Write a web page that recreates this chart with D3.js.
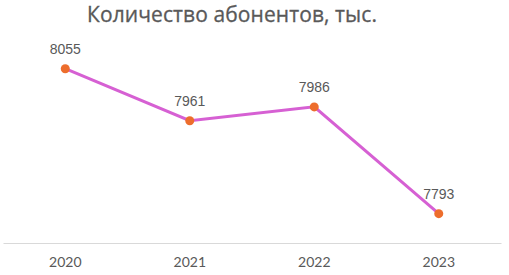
<!DOCTYPE html>
<html>
<head>
<meta charset="utf-8"/>
<script src="https://cdn.jsdelivr.net/npm/d3@7"></script>
<style>
	body { margin: 0; background: #fff; }
	svg { display: block; }
	.title { font-family: 'Open Sans', sans-serif; font-size: 21px; font-weight: 500; fill: #595959; stroke: #595959; stroke-width: 0.3; }
	.lbl { font-family: 'Liberation Sans', Arial, sans-serif; font-size: 14px; fill: #595959; }
	.tick text { font-family: Lato, 'Open Sans', sans-serif; font-size: 14px; fill: #595959; }
</style>
</head>
<body>
<div id="chart"></div>
<script>
var years = ['2020', '2021', '2022', '2023'];
var subscribers = [8055, 7961, 7986, 7793];
var title = 'Количество абонентов, тыс.';

var W = 509, H = 275;
var svg = d3.select('#chart').append('svg').attr('width', W).attr('height', H);

// plot area
var left = 3, right = 501, bottom = 243;
var x = d3.scaleBand().domain(years).range([left, right]);
var y = d3.scaleLinear().domain([7740, 8100]).range([bottom, 43.8]);

svg.append('text').attr('class', 'title')
	.attr('x', 232).attr('y', 22)
	.attr('text-anchor', 'middle')
	.attr('textLength', 290)
	.text(title);

// category axis
var ax = svg.append('g').attr('transform', `translate(0,${bottom})`)
	.call(d3.axisBottom(x).tickSize(0).tickPadding(14));
ax.select('.domain').attr('stroke', '#d9d9d9').attr('stroke-width', 1.2);

var data = years.map((d, i) => ({year: d, v: subscribers[i]}));
var cx = d => x(d.year) + x.bandwidth() / 2;

var line = d3.line().x(cx).y(d => y(d.v));
svg.append('path').datum(data)
	.attr('d', line)
	.attr('fill', 'none')
	.attr('stroke', '#d660d3')
	.attr('stroke-width', 3);

svg.selectAll('circle').data(data).enter().append('circle')
	.attr('cx', cx).attr('cy', d => y(d.v))
	.attr('r', 4.5)
	.attr('fill', '#ed6d2c');

svg.selectAll('.lbl').data(data).enter().append('text')
	.attr('class', 'lbl')
	.attr('x', cx).attr('y', d => y(d.v) - 15)
	.attr('text-anchor', 'middle')
	.text(d => d.v);
</script>
</body>
</html>
